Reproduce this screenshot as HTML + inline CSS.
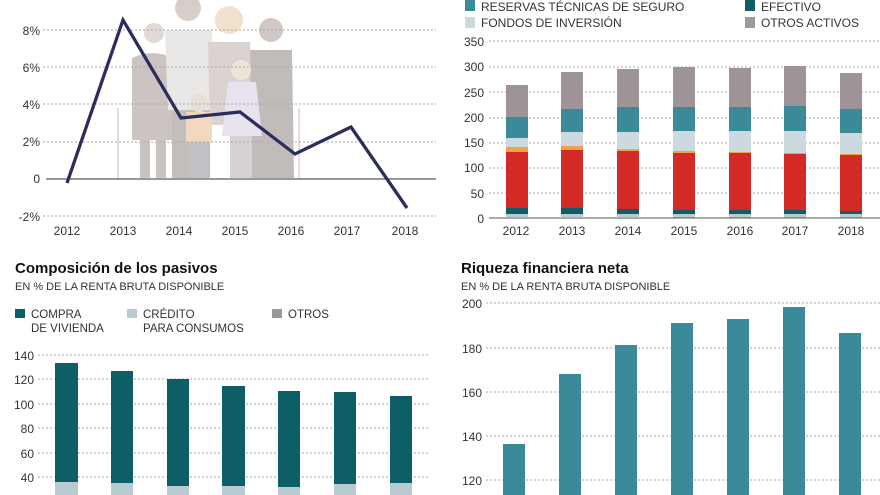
<!DOCTYPE html>
<html><head><meta charset="utf-8"><style>
html,body{margin:0;padding:0;background:#fff;}
svg{display:block;font-family:"Liberation Sans",sans-serif;}
</style></head><body>
<svg width="880" height="495" viewBox="0 0 880 495" xmlns="http://www.w3.org/2000/svg">
<rect width="880" height="495" fill="#fff"/>
<g opacity="0.55">
<line x1="118" y1="108" x2="118" y2="179" stroke="#b8aca6" stroke-width="1.5"/>
<line x1="299" y1="108" x2="299" y2="179" stroke="#b8aca6" stroke-width="1.5"/>
<circle cx="154" cy="33" r="10" fill="#c9bdb5"/>
<path d="M132 58 Q154 48 172 58 L176 140 L132 140 Z" fill="#a2958f"/>
<rect x="140" y="140" width="10" height="38" fill="#9f9590"/><rect x="156" y="140" width="10" height="38" fill="#9f9590"/>
<circle cx="188" cy="8" r="13" fill="#b8a89a"/>
<path d="M165 30 L212 30 L214 110 L168 110 Z" fill="#d9d6d4"/>
<rect x="172" y="110" width="38" height="68" fill="#958a84"/>
<circle cx="229" cy="20" r="14" fill="#e3c9a1"/>
<path d="M208 42 L250 42 L252 125 L210 125 Z" fill="#bdb0a8"/>
<circle cx="271" cy="30" r="12" fill="#a99c94"/>
<path d="M250 50 L292 50 L294 178 L252 178 Z" fill="#8f8680"/>
<circle cx="199" cy="103" r="9" fill="#d7c8b6"/>
<rect x="186" y="112" width="26" height="30" fill="#e9b98b"/>
<rect x="189" y="142" width="20" height="36" fill="#8b8f99"/>
<circle cx="241" cy="70" r="10" fill="#e1d0b8"/>
<path d="M228 82 L256 82 L262 136 L222 136 Z" fill="#d6cbe2"/>
<rect x="230" y="136" width="22" height="42" fill="#b6aeb0"/>
</g>
<g stroke="#aaa" stroke-width="1" stroke-dasharray="2,2">
<line x1="43" y1="30" x2="436" y2="30"/><line x1="43" y1="67" x2="436" y2="67"/>
<line x1="43" y1="104" x2="436" y2="104"/><line x1="43" y1="142" x2="436" y2="142"/>
<line x1="43" y1="216" x2="436" y2="216"/>
</g>
<line x1="46" y1="179" x2="436" y2="179" stroke="#333" stroke-width="1"/>
<g font-size="12" fill="#333" text-anchor="end">
<text x="40" y="35">8%</text><text x="40" y="72">6%</text><text x="40" y="109">4%</text>
<text x="40" y="146">2%</text><text x="40" y="183">0</text><text x="40" y="221">-2%</text>
</g>
<g font-size="12" fill="#333" text-anchor="middle">
<text x="67" y="235">2012</text><text x="123" y="235">2013</text><text x="179" y="235">2014</text>
<text x="235" y="235">2015</text><text x="291" y="235">2016</text><text x="347" y="235">2017</text><text x="405" y="235">2018</text>
</g>
<polyline points="67,183 123,20 181,118 240,112 295,154 351,127 407,208" fill="none" stroke="#2b2d5c" stroke-width="3.3"/>

<rect x="465" y="0" width="10" height="11" fill="#3a8a9a"/>
<text x="481" y="11" font-size="12" fill="#333">RESERVAS TÉCNICAS DE SEGURO</text>
<rect x="465" y="17" width="10" height="11" fill="#ccd9df"/>
<text x="481" y="27" font-size="12" fill="#333">FONDOS DE INVERSIÓN</text>
<rect x="745" y="0" width="10" height="11" fill="#0d5e66"/>
<text x="761" y="11" font-size="12" fill="#333">EFECTIVO</text>
<rect x="745" y="17" width="10" height="11" fill="#9e9a9a"/>
<text x="761" y="27" font-size="12" fill="#333">OTROS ACTIVOS</text>
<g stroke="#aaa" stroke-dasharray="2,2">
<line x1="489" y1="41" x2="880" y2="41"/><line x1="489" y1="67" x2="880" y2="67"/>
<line x1="489" y1="92" x2="880" y2="92"/><line x1="489" y1="118" x2="880" y2="118"/>
<line x1="489" y1="143" x2="880" y2="143"/><line x1="489" y1="168" x2="880" y2="168"/>
<line x1="489" y1="193" x2="880" y2="193"/>
</g>
<g font-size="12" fill="#333" text-anchor="end">
<text x="484" y="46">350</text><text x="484" y="71">300</text><text x="484" y="97">250</text>
<text x="484" y="122">200</text><text x="484" y="147">150</text><text x="484" y="172">100</text>
<text x="484" y="198">50</text><text x="484" y="223">0</text>
</g>
<g>
<rect x="506" y="213" width="22" height="4" fill="#b7cbd1"/>
<rect x="506" y="208" width="22" height="6" fill="#0d5e66"/>
<rect x="506" y="152" width="22" height="56" fill="#d42a25"/>
<rect x="506" y="147" width="22" height="5" fill="#f2a04a"/>
<rect x="506" y="138" width="22" height="9" fill="#ccd9df"/>
<rect x="506" y="117" width="22" height="21" fill="#3a8a9a"/>
<rect x="506" y="85" width="22" height="32" fill="#9e9396"/>
<rect x="561" y="213" width="22" height="4" fill="#b7cbd1"/>
<rect x="561" y="208" width="22" height="6" fill="#0d5e66"/>
<rect x="561" y="150" width="22" height="58" fill="#d42a25"/>
<rect x="561" y="146" width="22" height="4" fill="#f2a04a"/>
<rect x="561" y="132" width="22" height="14" fill="#ccd9df"/>
<rect x="561" y="109" width="22" height="23" fill="#3a8a9a"/>
<rect x="561" y="72" width="22" height="37" fill="#9e9396"/>
<rect x="617" y="213" width="22" height="4" fill="#b7cbd1"/>
<rect x="617" y="209" width="22" height="5" fill="#0d5e66"/>
<rect x="617" y="151" width="22" height="58" fill="#d42a25"/>
<rect x="617" y="149" width="22" height="2" fill="#f2a04a"/>
<rect x="617" y="132" width="22" height="17" fill="#ccd9df"/>
<rect x="617" y="107" width="22" height="25" fill="#3a8a9a"/>
<rect x="617" y="69" width="22" height="38" fill="#9e9396"/>
<rect x="673" y="214" width="22" height="4" fill="#b7cbd1"/>
<rect x="673" y="210" width="22" height="4" fill="#0d5e66"/>
<rect x="673" y="153" width="22" height="57" fill="#d42a25"/>
<rect x="673" y="151" width="22" height="2" fill="#f2a04a"/>
<rect x="673" y="131" width="22" height="20" fill="#ccd9df"/>
<rect x="673" y="107" width="22" height="24" fill="#3a8a9a"/>
<rect x="673" y="67" width="22" height="40" fill="#9e9396"/>
<rect x="729" y="214" width="22" height="4" fill="#b7cbd1"/>
<rect x="729" y="210" width="22" height="4" fill="#0d5e66"/>
<rect x="729" y="153" width="22" height="57" fill="#d42a25"/>
<rect x="729" y="152" width="22" height="1" fill="#f2a04a"/>
<rect x="729" y="131" width="22" height="21" fill="#ccd9df"/>
<rect x="729" y="107" width="22" height="24" fill="#3a8a9a"/>
<rect x="729" y="68" width="22" height="39" fill="#9e9396"/>
<rect x="784" y="214" width="22" height="4" fill="#b7cbd1"/>
<rect x="784" y="210" width="22" height="4" fill="#0d5e66"/>
<rect x="784" y="154" width="22" height="56" fill="#d42a25"/>
<rect x="784" y="153" width="22" height="1" fill="#f2a04a"/>
<rect x="784" y="131" width="22" height="22" fill="#ccd9df"/>
<rect x="784" y="106" width="22" height="25" fill="#3a8a9a"/>
<rect x="784" y="66" width="22" height="40" fill="#9e9396"/>
<rect x="840" y="214" width="22" height="4" fill="#b7cbd1"/>
<rect x="840" y="211" width="22" height="3" fill="#0d5e66"/>
<rect x="840" y="155" width="22" height="56" fill="#d42a25"/>
<rect x="840" y="154" width="22" height="1" fill="#f2a04a"/>
<rect x="840" y="133" width="22" height="21" fill="#ccd9df"/>
<rect x="840" y="109" width="22" height="24" fill="#3a8a9a"/>
<rect x="840" y="73" width="22" height="36" fill="#9e9396"/>
</g>
<line x1="489" y1="218" x2="880" y2="218" stroke="#555"/>
<g font-size="12" fill="#333" text-anchor="middle">
<text x="516" y="235">2012</text><text x="572" y="235">2013</text><text x="628" y="235">2014</text>
<text x="684" y="235">2015</text><text x="740" y="235">2016</text><text x="795" y="235">2017</text><text x="851" y="235">2018</text>
</g>

<text x="15" y="273" font-size="15" font-weight="bold" fill="#111">Composición de los pasivos</text>
<text x="15" y="290" font-size="11" fill="#333">EN % DE LA RENTA BRUTA DISPONIBLE</text>
<rect x="15" y="309" width="10" height="9" fill="#0d5e66"/>
<text x="31" y="318" font-size="11.5" fill="#333">COMPRA</text>
<text x="31" y="332" font-size="11.5" fill="#333">DE VIVIENDA</text>
<rect x="127" y="309" width="10" height="9" fill="#b7cbd1"/>
<text x="143" y="318" font-size="11.5" fill="#333">CRÉDITO</text>
<text x="143" y="332" font-size="11.5" fill="#333">PARA CONSUMOS</text>
<rect x="272" y="309" width="10" height="9" fill="#999"/>
<text x="288" y="318" font-size="11.5" fill="#333">OTROS</text>
<g stroke="#aaa" stroke-dasharray="2,2">
<line x1="38" y1="355" x2="430" y2="355"/><line x1="38" y1="379" x2="430" y2="379"/>
<line x1="38" y1="404" x2="430" y2="404"/><line x1="38" y1="428" x2="430" y2="428"/>
<line x1="38" y1="453" x2="430" y2="453"/><line x1="38" y1="477" x2="430" y2="477"/>
</g>
<g font-size="12" fill="#333" text-anchor="end">
<text x="34" y="360">140</text><text x="34" y="384">120</text><text x="34" y="409">100</text>
<text x="34" y="433">80</text><text x="34" y="458">60</text><text x="34" y="482">40</text>
</g>
<g fill="#0d5e66">
<rect x="55" y="363" width="23" height="119"/><rect x="111" y="371" width="22" height="114"/>
<rect x="167" y="379" width="22" height="108"/><rect x="222" y="386" width="23" height="101"/>
<rect x="278" y="391" width="22" height="97"/><rect x="334" y="392" width="22" height="95"/>
<rect x="390" y="396" width="22" height="90"/>
</g>
<g fill="#b7cbd1">
<rect x="55" y="482" width="23" height="13"/><rect x="111" y="483" width="22" height="12"/>
<rect x="167" y="486" width="22" height="9"/><rect x="222" y="486" width="23" height="9"/>
<rect x="278" y="487" width="22" height="8"/><rect x="334" y="484" width="22" height="11"/>
<rect x="390" y="483" width="22" height="12"/>
</g>

<text x="461" y="273" font-size="15" font-weight="bold" fill="#111">Riqueza financiera neta</text>
<text x="461" y="290" font-size="11" fill="#333">EN % DE LA RENTA BRUTA DISPONIBLE</text>
<g stroke="#aaa" stroke-dasharray="2,2">
<line x1="486" y1="303" x2="880" y2="303"/><line x1="486" y1="348" x2="880" y2="348"/>
<line x1="486" y1="392" x2="880" y2="392"/><line x1="486" y1="436" x2="880" y2="436"/>
<line x1="486" y1="480" x2="880" y2="480"/>
</g>
<g font-size="12" fill="#333" text-anchor="end">
<text x="482" y="308">200</text><text x="482" y="353">180</text><text x="482" y="397">160</text>
<text x="482" y="441">140</text><text x="482" y="485">120</text>
</g>
<g fill="#3a8a9a">
<rect x="503" y="444" width="22" height="51"/><rect x="559" y="374" width="22" height="121"/>
<rect x="615" y="345" width="22" height="150"/><rect x="671" y="323" width="22" height="172"/>
<rect x="727" y="319" width="22" height="176"/><rect x="783" y="307" width="22" height="188"/>
<rect x="839" y="333" width="22" height="162"/>
</g>
</svg>
</body></html>
